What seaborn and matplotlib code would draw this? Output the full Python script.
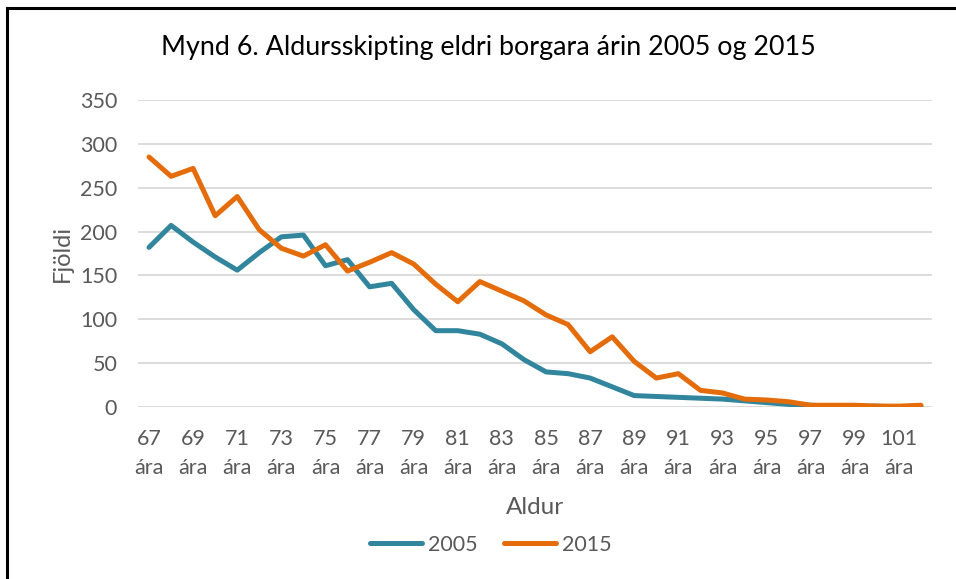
import matplotlib
matplotlib.use("Agg")
import matplotlib.pyplot as plt
import matplotlib.patches as mpatches
import seaborn as sns
import pandas as pd

ages = list(range(67, 103))
values_2005 = [182, 207, 188, 171, 156, 176, 194, 196, 161, 168, 137, 141,
               111, 87, 87, 83, 72, 54, 40, 38, 33, 23, 13, 12,
               11, 10, 9, 7, 5, 3, 2, 1, 1, 1, 0, 1]
values_2015 = [285, 263, 272, 218, 240, 202, 181, 172, 185, 155, 165, 176,
               163, 140, 120, 143, 132, 121, 105, 94, 63, 80, 52, 33,
               38, 19, 16, 9, 8, 6, 2, 2, 2, 1, 1, 2]
series_names = ["2005", "2015"]
y_ticks = [0, 50, 100, 150, 200, 250, 300, 350]

df = pd.DataFrame({
    "Aldur": ages * 2,
    "Fjöldi": values_2005 + values_2015,
    "Ár": [series_names[0]] * len(ages) + [series_names[1]] * len(ages),
})
df["pos"] = [i for i in range(len(ages))] * 2

sns.set_style("white")
plt.rcParams["font.family"] = ["Lato", "DejaVu Sans"]

text_col = "#595959"
fig = plt.figure(figsize=(9.56, 5.79), dpi=100)
ax = fig.add_axes([138 / 956, 1 - 407 / 579, (932 - 138) / 956, 307 / 579])

sns.lineplot(data=df, x="pos", y="Fjöldi", hue="Ár",
             palette={"2005": "#31859c", "2015": "#e46c0a"},
             linewidth=3.6, ax=ax, legend=False, solid_capstyle="round")

ax.set_xlim(-0.5, len(ages) - 0.5)
ax.set_ylim(0, 350)
ax.set_yticks(y_ticks)
ax.set_yticklabels([str(t) for t in y_ticks], fontsize=15.5, color=text_col)
ax.set_xticks(range(0, len(ages), 2))
ax.set_xticklabels([f"{a}\nára" for a in ages[::2]], fontsize=15.5,
                   color=text_col, linespacing=1.55)
ax.tick_params(axis="y", length=0, pad=15)
ax.tick_params(axis="x", length=0, pad=16)
ax.grid(axis="y", color="#d9d9d9", linewidth=1.3)
ax.set_axisbelow(True)
for s in ax.spines.values():
    s.set_visible(False)

ax.set_xlabel("Aldur", fontsize=17.5, color=text_col, labelpad=14)
ax.set_ylabel("Fjöldi", fontsize=17, color=text_col, labelpad=5)

fig.text(488 / 956, 1 - 48 / 579, "Mynd 6. Aldursskipting eldri borgara árin 2005 og 2015",
         ha="center", va="center", fontsize=19.4, color="black")

handles = [plt.Line2D([], [], color="#31859c", linewidth=3.6, solid_capstyle="round"),
           plt.Line2D([], [], color="#e46c0a", linewidth=3.6, solid_capstyle="round")]
fig.legend(handles, series_names, loc="center", bbox_to_anchor=(491 / 956, 1 - 545 / 579),
           ncol=2, frameon=False, fontsize=15.5, labelcolor=text_col,
           handlelength=2.4, columnspacing=1.2, handletextpad=0.3)

border = mpatches.Rectangle((7 / 956, -0.1), 1.1, 0.1 + 1 - 8 / 579,
                            transform=fig.transFigure, fill=False,
                            edgecolor="black", linewidth=2.2, clip_on=False)
fig.patches.append(border)

fig.savefig("out.png", dpi=100)
